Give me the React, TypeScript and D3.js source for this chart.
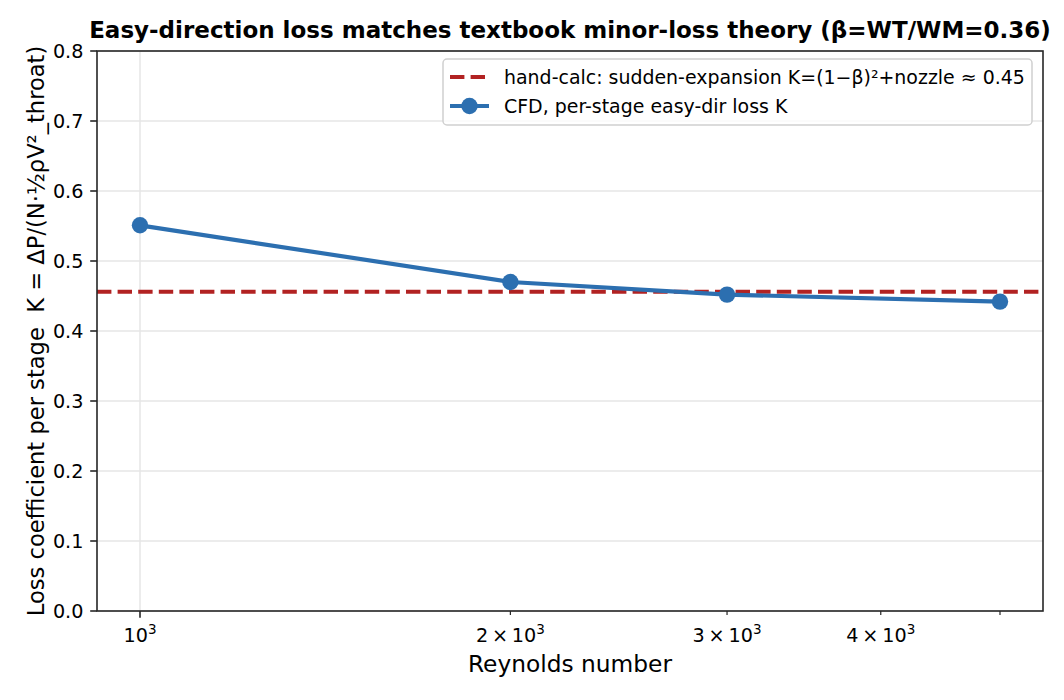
import * as d3 from 'd3';

// Reynolds numbers of the CFD runs and their per-stage loss coefficient
const reynolds = [1000, 2000, 3000, 5000];
const lossK = [0.551, 0.47, 0.452, 0.442];
// textbook hand-calc reference value
const handCalcK = 0.456;

const yTicks = [0, 0.1, 0.2, 0.3, 0.4, 0.5, 0.6, 0.7, 0.8];
const xMajorTicks = [1000];
const xMinorTicks = [2000, 3000, 4000, 5000];
const xMinorLabelled = [2000, 3000, 4000];

const title = 'Easy-direction loss matches textbook minor-loss theory (β=WT/WM=0.36)';
const xLabel = 'Reynolds number';
const yLabel = 'Loss coefficient per stage  K = ΔP/(N·½ρV²_throat)';
const legendLabels = [
  'hand-calc: sudden-expansion K=(1−β)²+nozzle ≈ 0.45',
  'CFD, per-stage easy-dir loss K',
];

const W = 1064;
const H = 700;
const m = { left: 97, right: 1043, top: 51, bottom: 611 };
const font = 'DejaVu Sans, sans-serif';
const blue = '#2c6fb0';
const red = '#b22222';
const gridColor = '#e6e6e6';
const axisColor = '#262626';

const App = () => {
  const lo = Math.log10(d3.min(reynolds) as number);
  const hi = Math.log10(d3.max(reynolds) as number);
  const pad = (hi - lo) * 0.05;
  const x = d3
    .scaleLog()
    .domain([10 ** (lo - pad), 10 ** (hi + pad)])
    .range([m.left, m.right]);
  const y = d3.scaleLinear().domain([0, 0.8]).range([m.bottom, m.top]);

  const line = d3
    .line<number>()
    .x((_, i) => x(reynolds[i]))
    .y(d => y(d));

  const lg = { x: 443, y: 59, w: 589, h: 66 };

  return (
    <svg
      width={W}
      height={H}
      style={{ position: 'absolute', left: 0, top: 0, background: '#fff' }}
      fontFamily={font}
    >
      <rect width={W} height={H} fill="#fff" />

      {/* grid */}
      {yTicks.map(t => (
        <line key={'gy' + t} x1={m.left} x2={m.right} y1={y(t)} y2={y(t)} stroke={gridColor} strokeWidth={1.5} />
      ))}
      {xMajorTicks.map(t => (
        <line key={'gx' + t} x1={x(t)} x2={x(t)} y1={m.top} y2={m.bottom} stroke={gridColor} strokeWidth={1.5} />
      ))}

      {/* hand-calc reference */}
      <line
        x1={m.left}
        x2={m.right}
        y1={y(handCalcK)}
        y2={y(handCalcK)}
        stroke={red}
        strokeWidth={3.9}
        strokeDasharray="14.4 6.2"
      />

      {/* CFD series */}
      <path d={line(lossK) || ''} fill="none" stroke={blue} strokeWidth={4.2} strokeLinejoin="round" />
      {lossK.map((v, i) => (
        <circle key={i} cx={x(reynolds[i])} cy={y(v)} r={8.2} fill={blue} />
      ))}

      {/* spines */}
      <rect
        x={m.left}
        y={m.top}
        width={m.right - m.left}
        height={m.bottom - m.top}
        fill="none"
        stroke={axisColor}
        strokeWidth={1.6}
      />

      {/* y ticks */}
      {yTicks.map(t => (
        <g key={'yt' + t}>
          <line x1={m.left - 6.8} x2={m.left} y1={y(t)} y2={y(t)} stroke={axisColor} strokeWidth={1.6} />
          <text x={m.left - 13.6} y={y(t)} dy="0.36em" textAnchor="end" fontSize={19.2} fill="#000">
            {t.toFixed(1)}
          </text>
        </g>
      ))}

      {/* x ticks */}
      {xMajorTicks.map(t => (
        <g key={'xt' + t}>
          <line x1={x(t)} x2={x(t)} y1={m.bottom} y2={m.bottom + 6.8} stroke={axisColor} strokeWidth={1.6} />
          <text x={x(t)} y={m.bottom + 31} textAnchor="middle" fontSize={19.2} fill="#000">
            10<tspan fontSize={13.5} dy={-8}>3</tspan>
          </text>
        </g>
      ))}
      {xMinorTicks.map(t => (
        <line key={'xm' + t} x1={x(t)} x2={x(t)} y1={m.bottom} y2={m.bottom + 3.9} stroke={axisColor} strokeWidth={1.2} />
      ))}
      {xMinorLabelled.map(t => (
        <text key={'xl' + t} x={x(t)} y={m.bottom + 31} textAnchor="middle" fontSize={19.2} fill="#000">
          {`${t / 1000}\u2009×\u200910`}
          <tspan fontSize={13.5} dy={-8}>3</tspan>
        </text>
      ))}

      {/* axis labels */}
      <text x={(m.left + m.right) / 2} y={672} textAnchor="middle" fontSize={23.3} fill="#000">
        {xLabel}
      </text>
      <text
        transform={`translate(44,${(m.top + m.bottom) / 2}) rotate(-90)`}
        textAnchor="middle"
        fontSize={22.6}
        fill="#000"
        style={{ whiteSpace: 'pre' }}
      >
        {yLabel}
      </text>

      {/* title */}
      <text x={(m.left + m.right) / 2} y={38} textAnchor="middle" fontSize={23} fontWeight="bold" fill="#000">
        {title}
      </text>

      {/* legend */}
      <rect
        x={lg.x}
        y={lg.y}
        width={lg.w}
        height={lg.h}
        rx={4}
        fill="#fff"
        fillOpacity={0.8}
        stroke="#d0d0d0"
        strokeWidth={1.5}
      />
      <line x1={450} x2={489} y1={77} y2={77} stroke={red} strokeWidth={3.9} strokeDasharray="14.4 6.2" />
      <text x={504} y={77} dy="0.36em" fontSize={18.95} fill="#000">
        {legendLabels[0]}
      </text>
      <line x1={450} x2={489} y1={106} y2={106} stroke={blue} strokeWidth={4.2} />
      <circle cx={469.5} cy={106} r={8.2} fill={blue} />
      <text x={504} y={106} dy="0.36em" fontSize={18.95} fill="#000">
        {legendLabels[1]}
      </text>
    </svg>
  );
};

export default App;
